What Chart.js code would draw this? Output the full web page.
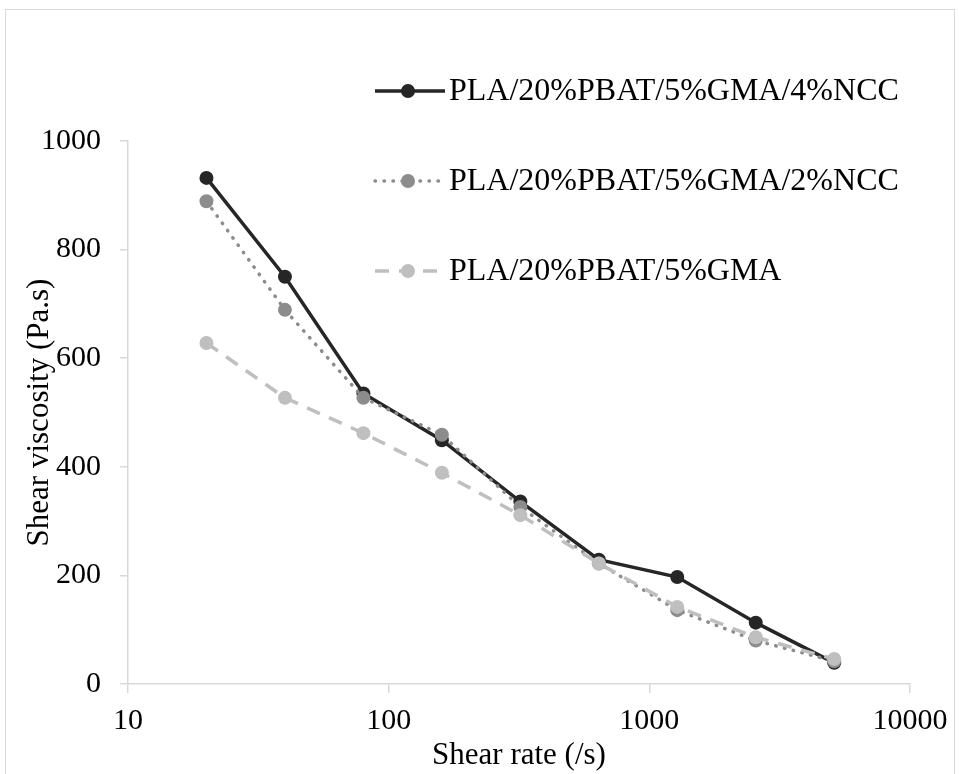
<!DOCTYPE html>
<html>
<head>
<meta charset="utf-8">
<script src="https://cdn.jsdelivr.net/npm/chart.js@4.4.1/dist/chart.umd.min.js"></script>
<style>
  html, body { margin: 0; padding: 0; background: #fff; }
  #wrap { position: relative; width: 959px; height: 774px; overflow: hidden; }
  #frame {
    position: absolute; left: 5px; top: 9px; width: 950px; height: 800px;
    border: 1.5px solid #d9d9d9; box-sizing: border-box;
  }
  canvas { position: absolute; left: 0; top: 0; }
</style>
</head>
<body>
<div id="wrap">
  <div id="frame"></div>
  <canvas id="chart" width="959" height="774"></canvas>
</div>
<script>
const shearRate = [20, 40, 80, 160, 320, 640, 1280, 2560, 5120];
const visc4NCC = [932, 750, 535, 449, 336, 229, 197, 113, 39];
const visc2NCC = [889, 689, 527, 459, 326, 222, 136, 80, 42];
const viscGMA = [628, 527, 462, 389, 311, 222, 142, 86, 46];
const seriesNames = [
  "PLA/20%PBAT/5%GMA/4%NCC",
  "PLA/20%PBAT/5%GMA/2%NCC",
  "PLA/20%PBAT/5%GMA",
];
const xTicks = [10, 100, 1000, 10000];
const yTicks = [0, 200, 400, 600, 800, 1000];

const serif = "'Liberation Serif', 'Times New Roman', serif";
const axisGrey = "#d9d9d9";

function points(values) {
  return shearRate.map((x, i) => ({ x: x, y: values[i] }));
}

// legend drawn in the upper right of the plot, one row per series
const sideLegend = {
  id: "sideLegend",
  afterDraw(chart) {
    const ctx = chart.ctx;
    const rows = [91, 181, 271];
    const x0 = 375, x1 = 445, mx = 408, tx = 449;
    chart.data.datasets.forEach((ds, i) => {
      const y = rows[i];
      ctx.save();
      ctx.strokeStyle = ds.borderColor;
      ctx.lineWidth = ds.borderWidth;
      ctx.lineCap = ds.borderCapStyle || "butt";
      ctx.setLineDash(ds.borderDash || []);
      ctx.beginPath();
      ctx.moveTo(x0, y);
      ctx.lineTo(x1, y);
      ctx.stroke();
      ctx.setLineDash([]);
      ctx.fillStyle = ds.pointBackgroundColor;
      ctx.beginPath();
      ctx.arc(mx, y, ds.pointRadius, 0, Math.PI * 2);
      ctx.fill();
      ctx.fillStyle = "#000";
      ctx.font = "32px " + serif;
      ctx.textBaseline = "middle";
      ctx.textAlign = "left";
      ctx.fillText(seriesNames[i], tx, y + 1);
      ctx.restore();
    });
  },
};

const data = {
  datasets: [
    {
      label: seriesNames[0],
      data: points(visc4NCC),
      borderColor: "#262626",
      backgroundColor: "#262626",
      pointBackgroundColor: "#262626",
      pointBorderWidth: 0,
      pointRadius: 7,
      borderWidth: 3.5,
      order: 3,
    },
    {
      label: seriesNames[1],
      data: points(visc2NCC),
      borderColor: "#8c8c8c",
      backgroundColor: "#8c8c8c",
      pointBackgroundColor: "#8c8c8c",
      pointBorderWidth: 0,
      pointRadius: 7,
      borderWidth: 3.5,
      borderDash: [0.5, 8.5],
      borderCapStyle: "round",
      order: 2,
    },
    {
      label: seriesNames[2],
      data: points(viscGMA),
      borderColor: "#bfbfbf",
      backgroundColor: "#bfbfbf",
      pointBackgroundColor: "#bfbfbf",
      pointBorderWidth: 0,
      pointRadius: 7,
      borderWidth: 3.5,
      borderDash: [14, 10],
      order: 1,
    },
  ],
};

const config = {
  type: "line",
  data: data,
  options: {
    responsive: false,
    animation: false,
    devicePixelRatio: 1,
    layout: { padding: { top: 141, right: 49, bottom: 0, left: 0 } },
    elements: { line: { tension: 0 } },
    plugins: {
      legend: { display: false },
      tooltip: { enabled: false },
    },
    scales: {
      x: {
        type: "logarithmic",
        min: 10,
        max: 10000,
        afterBuildTicks: (scale) => {
          scale.ticks = xTicks.map((v) => ({ value: v }));
        },
        afterFit: (scale) => {
          scale.height = 90;
        },
        ticks: {
          callback: (v) => String(v),
          color: "#000",
          font: { family: serif, size: 30 },
          padding: 10,
          maxRotation: 0,
          autoSkip: false,
        },
        grid: {
          drawOnChartArea: false,
          drawTicks: true,
          tickLength: 9,
          color: axisGrey,
          lineWidth: 1.5,
        },
        border: { color: axisGrey, width: 1.5 },
        title: {
          display: true,
          text: "Shear rate (/s)",
          color: "#000",
          font: { family: serif, size: 31 },
          padding: { top: 0, bottom: 0 },
        },
      },
      y: {
        min: 0,
        max: 1000,
        afterBuildTicks: (scale) => {
          scale.ticks = yTicks.map((v) => ({ value: v }));
        },
        afterFit: (scale) => {
          scale.width = 128;
        },
        ticks: {
          callback: (v) => String(v),
          color: "#000",
          font: { family: serif, size: 30 },
          padding: 19,
        },
        grid: {
          drawOnChartArea: false,
          drawTicks: true,
          tickLength: 8,
          color: axisGrey,
          lineWidth: 1.5,
        },
        border: { color: axisGrey, width: 1.5 },
        title: {
          display: true,
          text: "Shear viscosity (Pa.s)",
          color: "#000",
          font: { family: serif, size: 31 },
          padding: { top: 21, bottom: 0 },
        },
      },
    },
  },
  plugins: [sideLegend],
};

const myChart = new Chart(document.getElementById("chart"), config);
</script>
</body>
</html>
